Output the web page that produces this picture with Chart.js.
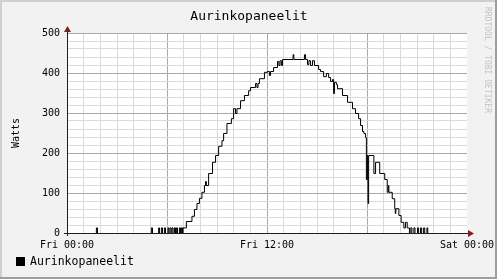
<!DOCTYPE html>
<html>
<head>
<meta charset="utf-8">
<title>Aurinkopaneelit</title>
<script src="https://cdn.jsdelivr.net/npm/chart.js@4.4.1/dist/chart.umd.min.js"></script>
<style>
    html, body { margin: 0; padding: 0; background: #f2f2f2; }
    canvas { display: block; }
</style>
</head>
<body>
<canvas id="solarChart" width="497" height="279"></canvas>
<script>
// Minutes since Fri 00:00, and the power reading (W) that starts at that minute
const minutes = [
    0, 104, 108, 302, 306, 328, 331, 338, 342, 349, 353, 362, 365, 369, 373, 376, 380,
    385, 389, 392, 396, 403, 407, 410, 414, 416, 428, 448, 457, 466, 475, 484, 493,
    497, 500, 508, 522, 533, 544, 556, 562, 574, 590, 598, 605, 610, 623, 637, 652,
    659, 677, 682, 686, 691, 709, 720, 727, 731, 742, 756, 761, 765, 770, 774, 812,
    815, 853, 857, 864, 869, 875, 882, 889, 904, 911, 922, 932, 940, 947, 954, 958,
    961, 968, 972, 990, 1008, 1026, 1037, 1048, 1055, 1062, 1067, 1073, 1076, 1079,
    1081, 1082, 1084, 1103, 1109, 1124, 1142, 1151, 1155, 1157, 1169, 1178, 1180,
    1182, 1193, 1201, 1211, 1217, 1223, 1231, 1236, 1240, 1247, 1251, 1260, 1264,
    1271, 1275, 1282, 1286, 1294, 1297, 1440
];
const watts = [
    0, 14, 0, 14, 0, 14, 0, 14, 0, 14, 0, 14, 0, 14, 0, 14, 0,
    14, 0, 14, 0, 14, 0, 14, 0, 14, 30, 43, 60, 75, 88, 103, 120,
    130, 120, 150, 178, 195, 218, 232, 250, 275, 287, 312, 300, 312, 332, 345, 357,
    365, 375, 365, 375, 387, 403, 405, 395, 405, 415, 430, 420, 432, 420, 435, 447,
    435, 447, 435, 422, 432, 420, 432, 420, 410, 405, 392, 400, 390, 380, 385, 350,
    378, 372, 362, 345, 328, 312, 300, 287, 270, 255, 250, 240, 135, 195,
    135, 75, 195, 150, 178, 150, 135, 103, 120, 103, 87, 62, 50,
    62, 45, 28, 14, 28, 14, 0, 14, 0, 14, 0, 14, 0,
    14, 0, 14, 0, 14, 0, 0
];

const xTickMinutes = [0, 720, 1440];
const xTickLabels = ['Fri 00:00', 'Fri 12:00', 'Sat 00:00'];
const yTickValues = [0, 100, 200, 300, 400, 500];

const MONO = '"DejaVu Sans Mono", "Liberation Mono", monospace';
const MINOR_GRID = '#dadada';
const MAJOR_GRID = '#ef8a8a';
const NO_LINE = 'rgba(0,0,0,0)';

// grid steps: one line per hour, one per 20 W
const xGridMinutes = [];
for (let m = 0; m <= 1440; m += 60) xGridMinutes.push(m);
const yGridWatts = [];
for (let w = 0; w <= 500; w += 20) yGridWatts.push(w);

const xGridColors = xGridMinutes.map(m =>
    (m === 0 || m === 1440) ? NO_LINE : (m % 360 === 0 ? MAJOR_GRID : MINOR_GRID));
const yGridColors = yGridWatts.map(w =>
    w === 0 ? NO_LINE : (w % 100 === 0 ? MAJOR_GRID : MINOR_GRID));

// Background, frame, axes with arrows and the texts rrdtool puts around the plot
const rrdDecor = {
    id: 'rrdDecor',
    beforeDraw(chart) {
        const c = chart.ctx;
        const a = chart.chartArea;
        c.save();
        c.fillStyle = '#f2f2f2';
        c.fillRect(0, 0, chart.width, chart.height);
        c.fillStyle = '#cfcfcf';
        c.fillRect(0, 0, chart.width, 2);
        c.fillRect(0, 0, 2, chart.height);
        c.fillStyle = '#9e9e9e';
        c.fillRect(chart.width - 2, 0, 2, chart.height);
        c.fillRect(0, chart.height - 2, chart.width, 2);
        c.fillStyle = '#ffffff';
        c.fillRect(a.left, a.top, a.right - a.left, a.bottom - a.top);
        c.restore();
    },
    beforeDatasetsDraw(chart) {
        chart.ctx.save();
        chart.ctx.translate(0.5, 0.5);
    },
    afterDatasetsDraw(chart) {
        chart.ctx.restore();
    },
    afterDraw(chart) {
        const c = chart.ctx;
        const a = chart.chartArea;
        c.save();
        // axes
        c.fillStyle = '#1f1f1f';
        c.fillRect(a.left - 3, a.bottom, a.right - a.left + 5, 1);
        c.fillRect(a.left, a.top - 4, 1, a.bottom - a.top + 7);
        // arrows
        c.fillStyle = '#7f1f1f';
        c.beginPath();
        c.moveTo(a.right + 1, a.bottom - 3);
        c.lineTo(a.right + 7, a.bottom + 0.5);
        c.lineTo(a.right + 1, a.bottom + 4);
        c.closePath();
        c.fill();
        c.beginPath();
        c.moveTo(a.left - 3, a.top - 1);
        c.lineTo(a.left + 0.5, a.top - 7);
        c.lineTo(a.left + 4, a.top - 1);
        c.closePath();
        c.fill();

        // title
        c.fillStyle = '#000';
        c.textAlign = 'center';
        c.textBaseline = 'middle';
        c.font = '13px ' + MONO;
        c.fillText('Aurinkopaneelit', 249, 17);

        // vertical label
        c.save();
        c.translate(16, 133);
        c.rotate(-Math.PI / 2);
        c.font = '10px ' + MONO;
        c.fillText('Watts', 0, 0);
        c.restore();

        // legend
        c.fillRect(16, 257, 9, 9);
        c.textAlign = 'left';
        c.font = '11.5px ' + MONO;
        c.fillText('Aurinkopaneelit', 30, 262);

        // watermark
        c.save();
        c.translate(487, 7);
        c.rotate(Math.PI / 2);
        c.fillStyle = '#c4c4c4';
        c.font = '8px ' + MONO;
        c.fillText('RRDTOOL / TOBI OETIKER', 0, 0);
        c.restore();
        c.restore();
    }
};

const points = minutes.map((m, i) => ({ x: m, y: watts[i] }));

new Chart(document.getElementById('solarChart'), {
    type: 'line',
    data: {
        datasets: [{
            label: 'Aurinkopaneelit',
            data: points,
            stepped: true,
            borderColor: '#000000',
            borderWidth: 1,
            pointRadius: 0,
            fill: false
        }]
    },
    options: {
        responsive: false,
        animation: false,
        devicePixelRatio: 1,
        layout: { padding: { top: 33, right: 30, bottom: 0, left: 0 } },
        plugins: {
            legend: { display: false },
            title: { display: false },
            tooltip: { enabled: false }
        },
        scales: {
            x: {
                type: 'linear',
                min: 0,
                max: 1440,
                afterFit: scale => {
                    scale.height = 46;
                    scale.paddingLeft = 0;
                    scale.paddingRight = 0;
                },
                afterBuildTicks: scale => {
                    scale.ticks = xGridMinutes.map(m => ({ value: m }));
                },
                ticks: {
                    autoSkip: false,
                    maxRotation: 0,
                    padding: 6,
                    color: '#000',
                    font: { family: MONO, size: 10 },
                    callback: v => {
                        const i = xTickMinutes.indexOf(v);
                        return i >= 0 ? xTickLabels[i] : '';
                    }
                },
                grid: {
                    drawTicks: false,
                    lineWidth: 1,
                    color: xGridColors
                },
                border: { display: false }
            },
            y: {
                min: 0,
                max: 500,
                afterFit: scale => { scale.width = 67; },
                afterBuildTicks: scale => {
                    scale.ticks = yGridWatts.map(w => ({ value: w }));
                },
                ticks: {
                    autoSkip: false,
                    padding: 7,
                    color: '#000',
                    font: { family: MONO, size: 10 },
                    callback: v => yTickValues.includes(v) ? String(v) : ''
                },
                grid: {
                    drawTicks: false,
                    lineWidth: 1,
                    color: yGridColors
                },
                border: { display: false }
            }
        }
    },
    plugins: [rrdDecor]
});
</script>
</body>
</html>
